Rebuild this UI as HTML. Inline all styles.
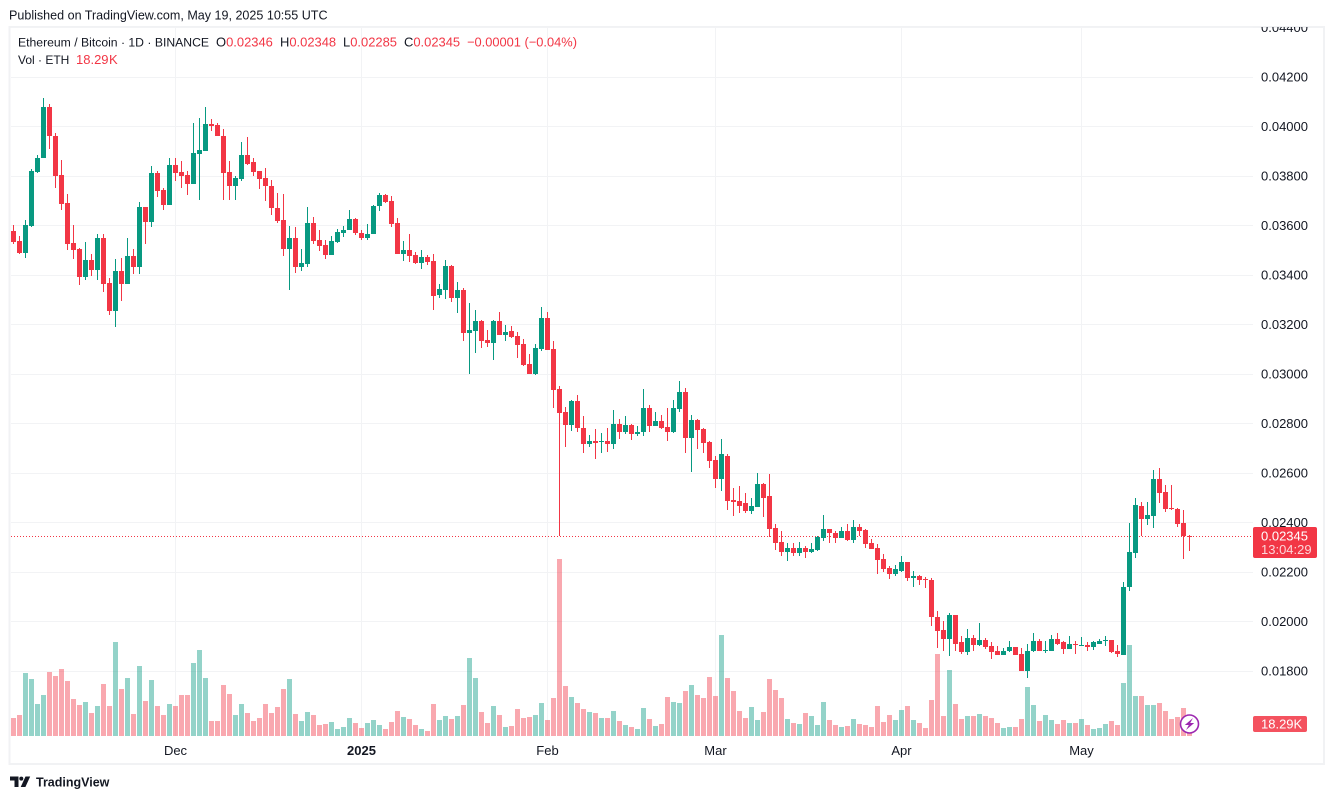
<!DOCTYPE html>
<html lang="en">
<head>
<meta charset="utf-8">
<title>Ethereum / Bitcoin chart</title>
<style>
html,body{margin:0;padding:0;background:#fff;}
body{width:1334px;height:799px;overflow:hidden;position:relative;font-family:"Liberation Sans",sans-serif;}
svg{position:absolute;left:0;top:0;display:block;}
text{font-family:"Liberation Sans",sans-serif;fill:#131722;}
.red{fill:#f23645;}
</style>
</head>
<body>
<svg id="chart" width="1334" height="799" viewBox="0 0 1334 799">
  <defs><clipPath id="frame-clip"><rect x="9" y="27" width="1315" height="738"/></clipPath></defs>
  <text x="9" y="19.5" font-size="12.55">Published on TradingView.com, May 19, 2025 10:55 UTC</text>
  <rect x="9.5" y="27" width="1314.5" height="737" fill="#fff" stroke="#f1f2f4" stroke-width="2"/>
  <g id="grid"></g>
  <g id="volumes"></g>
  <line id="last-line" x1="11" x2="1253" stroke="#f23645" stroke-width="1" stroke-dasharray="1 2"/>
  <g id="candles"></g>
  <g id="price-axis" clip-path="url(#frame-clip)"></g>
  <g id="time-axis"></g>

  <g>
    <text x="18" y="46.5" font-size="12.2">Ethereum / Bitcoin · 1D · BINANCE</text>
    <text x="216" y="46.5" font-size="12.95">O<tspan class="red">0.02346</tspan></text>
    <text x="280" y="46.5" font-size="12.95">H<tspan class="red">0.02348</tspan></text>
    <text x="343" y="46.5" font-size="12.95">L<tspan class="red">0.02285</tspan></text>
    <text x="404" y="46.5" font-size="12.95">C<tspan class="red">0.02345</tspan></text>
    <text x="467" y="46.5" font-size="12.85" class="red">−0.00001 (−0.04%)</text>
    <text x="18" y="64" font-size="12">Vol · ETH</text>
    <text x="76" y="64" font-size="13" class="red">18.29<tspan dx="0.5">K</tspan></text>
  </g>

  <g>
    <rect x="1253" y="527" width="64" height="31" rx="2" fill="#f23645"/>
    <text x="1261" y="540.5" font-size="13" style="fill:#fff">0.02345</text>
    <text x="1261" y="554" font-size="13" style="fill:#fcd5d8">13:04:29</text>
  </g>
  <g>
    <rect x="1253" y="716" width="54" height="16" rx="2" fill="#f4525f"/>
    <text x="1261" y="728.5" font-size="13" style="fill:#fff">18.29K</text>
  </g>

  <g>
    <circle cx="1189.5" cy="724" r="9" fill="#fff" stroke="#9c27b0" stroke-width="1.6"/>
    <path d="M1193 718 L1184.8 725 H1188.8 L1186 730 L1194.2 723 H1190.2 Z" fill="#9c27b0"/>
  </g>

  <g>
    <path d="M10 776.5h8.5v10.5h-4v-6.5h-4.5z" fill="#131722"/>
    <circle cx="21.3" cy="778.6" r="2" fill="#131722"/>
    <path d="M25.5 776.5h4.7l-4.8 10.5h-4.7z" fill="#131722"/>
    <text x="36" y="786.5" font-size="12.5" font-weight="700">TradingView</text>
  </g>
</svg>
<script>
// All prices below are in units of 0.00001 BTC per ETH.
const opens = [3577,3537,3490,3599,3816,3870,4078,3961,3804,3690,
3529,3504,3393,3460,3421,3549,3367,3255,3416,3364,
3476,3433,3674,3615,3812,3743,3684,3844,3816,3804,
3768,3890,3902,4010,4006,3961,3816,3757,3788,3885,
3856,3820,3792,3759,3670,3622,3506,3549,3433,3445,
3610,3541,3521,3482,3534,3569,3579,3626,3569,3549,
3563,3676,3723,3699,3610,3484,3500,3480,3448,3472,
3456,3319,3339,3436,3306,3339,3165,3173,3213,3137,
3125,3213,3157,3173,3153,3120,3040,2999,3100,3226,
3100,2939,2846,2793,2890,2783,2715,2730,2723,2730,
2715,2799,2766,2795,2756,2766,2863,2791,2811,2787,
2766,2859,2928,2742,2815,2775,2726,2653,2573,2669,
2492,2488,2476,2447,2463,2556,2505,2375,2319,2278,
2298,2274,2298,2282,2290,2335,2371,2355,2335,2363,
2327,2379,2367,2315,2298,2250,2214,2193,2205,2238,
2173,2185,2169,2165,2016,1963,1927,2024,1915,1874,
1931,1906,1923,1902,1878,1862,1878,1898,1866,1801,
1878,1919,1882,1882,1927,1915,1890,1910,1902,1906,
1898,1910,1920,1923,1878,1862,2137,2274,2464,2412,
2424,2573,2521,2456,2452,2399,2346];
const highs = [3601,3557,3622,3828,3884,4115,4090,3973,3864,3727,
3601,3509,3533,3486,3565,3565,3387,3464,3468,3549,
3504,3694,3674,3840,3820,3751,3872,3872,3860,3820,
4014,4034,4078,4030,4014,3990,3860,3800,3937,3957,
3872,3820,3832,3783,3731,3727,3598,3594,3505,3674,
3634,3581,3541,3557,3586,3598,3662,3630,3581,3606,
3682,3731,3727,3719,3630,3537,3565,3492,3500,3480,
3484,3363,3460,3440,3371,3347,3286,3258,3217,3177,
3217,3250,3197,3193,3169,3141,3080,3120,3270,3250,
3133,2951,2866,2894,2914,2831,2754,2775,2762,2783,
2855,2819,2831,2799,2791,2940,2872,2847,2835,2863,
2896,2969,2944,2835,2819,2783,2730,2669,2738,2674,
2540,2548,2520,2500,2601,2560,2597,2395,2363,2315,
2315,2319,2306,2315,2343,2428,2371,2363,2383,2395,
2408,2395,2371,2331,2311,2270,2222,2226,2262,2238,
2205,2189,2181,2173,2040,2003,2032,2024,1939,1967,
1943,1995,1931,1915,1902,1894,1919,1898,1894,1910,
1951,1927,1919,1943,1951,1919,1939,1919,1935,1915,
1919,1927,1939,1923,1906,2157,2399,2500,2484,2484,
2610,2618,2549,2549,2456,2448,2348];
const lows = [3526,3486,3469,3595,3813,3870,3909,3751,3663,3502,
3465,3360,3381,3397,3381,3332,3239,3191,3296,3364,
3405,3405,3526,3595,3716,3663,3684,3777,3752,3724,
3768,3704,3902,3982,3959,3703,3703,3703,3779,3844,
3800,3747,3699,3642,3611,3476,3339,3408,3416,3433,
3525,3497,3464,3482,3529,3553,3579,3561,3541,3541,
3563,3658,3691,3594,3486,3456,3452,3444,3424,3440,
3258,3306,3302,3290,3246,3133,2999,3084,3104,3108,
3056,3157,3133,3145,3064,3032,2999,2995,3092,3096,
2862,2345,2704,2769,2765,2679,2706,2657,2679,2686,
2698,2738,2758,2734,2750,2750,2766,2791,2775,2730,
2762,2847,2678,2605,2698,2678,2621,2540,2528,2451,
2427,2439,2439,2435,2463,2423,2339,2290,2262,2242,
2262,2262,2254,2274,2286,2323,2315,2315,2335,2323,
2315,2343,2298,2294,2193,2201,2169,2185,2201,2161,
2137,2145,2133,1983,1894,1882,1858,1878,1866,1862,
1878,1902,1890,1846,1862,1862,1874,1862,1801,1769,
1874,1878,1870,1882,1906,1866,1890,1866,1902,1882,
1886,1910,1902,1870,1854,1862,2121,2254,2343,2391,
2375,2480,2440,2448,2383,2250,2285];
const closes = [3534,3490,3601,3820,3872,4078,3962,3801,3688,3526,
3502,3393,3460,3421,3549,3364,3255,3416,3364,3476,
3433,3674,3615,3812,3740,3684,3844,3813,3801,3768,
3892,3905,4010,4002,3959,3813,3757,3792,3885,3848,
3817,3788,3757,3668,3619,3506,3549,3433,3448,3610,
3538,3518,3482,3537,3573,3581,3626,3567,3549,3565,
3678,3723,3696,3607,3486,3500,3476,3448,3472,3452,
3314,3343,3436,3306,3339,3165,3177,3213,3133,3125,
3213,3157,3169,3149,3116,3036,2999,3104,3226,3096,
2935,2842,2793,2890,2781,2715,2730,2722,2730,2715,
2799,2766,2795,2756,2766,2863,2791,2811,2783,2766,
2863,2928,2742,2815,2771,2722,2649,2573,2674,2488,
2484,2467,2447,2467,2556,2500,2371,2315,2278,2298,
2274,2298,2282,2294,2339,2371,2355,2335,2363,2327,
2379,2363,2311,2294,2246,2210,2193,2210,2238,2173,
2185,2165,2166,2016,1959,1927,2024,1910,1874,1931,
1906,1923,1898,1874,1862,1882,1898,1862,1801,1882,
1919,1882,1886,1927,1910,1890,1910,1906,1906,1898,
1915,1919,1923,1874,1866,2137,2278,2468,2412,2428,
2573,2517,2452,2452,2395,2343,2345];
// Volume in thousands of ETH.
const volumes = [27,31.5,94.5,85.5,48,61.5,96,90,100.5,82.5,
55.5,46.5,51,34.5,45,78,45,141,70.5,87,
33,105,52.5,84,45,31.5,48,45,61.5,61.5,
109.5,129,87,22.5,22.5,76.5,63,31.5,48,34.5,
22.5,27,48,34.5,43.5,70.5,85.5,33,22.5,36,
31.5,16.5,18,21,10.5,13.5,27,19.5,12,19.5,
24,16.5,10.5,21,37.5,28.5,25.5,16.5,10.5,7.5,
48,24,30,25.5,30,46.5,117,87,36,19.5,
45,31.5,13.5,15,40.5,27,28.5,31.5,49.5,24,
57,265.5,75,58.5,49.5,40.5,36,34.5,27,27,
37.5,22.5,16.5,13.5,10.5,42,25.5,15,18,58.5,
51,49.5,67.5,76.5,61.5,57,88.5,60,151.5,87,
67.5,37.5,27,43.5,24,36,85.5,69,57,25.5,
19.5,18,34.5,30,16.5,51,24,16.5,13.5,15,
25.5,18,16.5,13.5,45,21,31.5,24,39,45,
24,19.5,12,54,123,30,99,48,25.5,30,
30,33,30,27,19.5,12,13.5,13.5,25.5,73.5,
46.5,22.5,31.5,24,18,24,19.5,19.5,25.5,16.5,
10.5,12,18,22.5,16.5,79.5,136.5,60,60,46.5,
46.5,49.5,37.5,25.5,28.5,42,18.29];
const priceTicks = [4400,4200,4000,3800,3600,3400,3200,3000,2800,2600,2400,2200,2000,1800];
const timeLabels = ["Dec","2025","Feb","Mar","Apr","May"];
const timeLabelIndex = [27,58,89,117,148,178];
const lastPrice = 2345;

const SVG_NS = "http://www.w3.org/2000/svg";
function xOf(i){ return 13.5 + 6 * i; }
function yOf(p){ return 126.3 + (4000 - p) * 0.2475; }
function volHeight(v){ return v * 2 / 3; }
function make(tag, attrs, parent){
  const el = document.createElementNS(SVG_NS, tag);
  for (const k in attrs) el.setAttribute(k, attrs[k]);
  parent.appendChild(el);
  return el;
}
const GREEN = "#089981", RED = "#f23645";
const gridG = document.getElementById("grid");
const volG = document.getElementById("volumes");
const candleG = document.getElementById("candles");
const priceG = document.getElementById("price-axis");
const timeG = document.getElementById("time-axis");

priceTicks.forEach(function(p){
  const y = Math.round(yOf(p));
  const line = make("rect", {x: 11, y: y, width: 1242, height: 1, fill: "#f2f3f5"}, gridG);
  
  
  const label = make("text", {x: 1261, y: yOf(p) + 4.7, "font-size": 13}, priceG);
  label.textContent = (p / 100000).toFixed(5);
  
  
});

timeLabels.forEach(function(t, k){
  const x = Math.floor(xOf(timeLabelIndex[k]));
  const line = make("rect", {x: x, y: 28, width: 1, height: 708, fill: "#f2f3f5"}, gridG);
  
  
  const label = make("text", {x: x + 0.5, y: 755, "font-size": 13, "text-anchor": "middle"}, timeG);
  if (t === "2025") label.setAttribute("font-weight", "700");
  label.textContent = t;
  
  
});

const baseY = 736;
volumes.forEach(function(v, i){
  const up = closes[i] >= opens[i];
  const h = volHeight(v);
  const bar = make("rect", {x: xOf(i) - 2.5, y: baseY - h, width: 5, height: h, fill: up ? GREEN : RED, "fill-opacity": 0.43}, volG);
  
  
});

const lastLine = document.getElementById("last-line");
lastLine.setAttribute("y1", Math.round(yOf(lastPrice)) + 0.5);
lastLine.setAttribute("y2", Math.round(yOf(lastPrice)) + 0.5);

opens.forEach(function(o, i){
  const c = closes[i];
  const up = c >= o;
  const color = up ? GREEN : RED;
  const cx = xOf(i);
  const g = make("g", {}, candleG);
  
  
  const hiY = Math.round(yOf(highs[i]));
  const loY = Math.round(yOf(lows[i]));
  make("rect", {x: cx - 0.5, y: hiY, width: 1, height: Math.max(1, loY - hiY), fill: color}, g);
  const top = Math.round(yOf(Math.max(o, c)));
  const bot = Math.round(yOf(Math.min(o, c)));
  make("rect", {x: cx - 2.5, y: top, width: 5, height: Math.max(1, bot - top), fill: color}, g);
});
</script>
</body>
</html>
